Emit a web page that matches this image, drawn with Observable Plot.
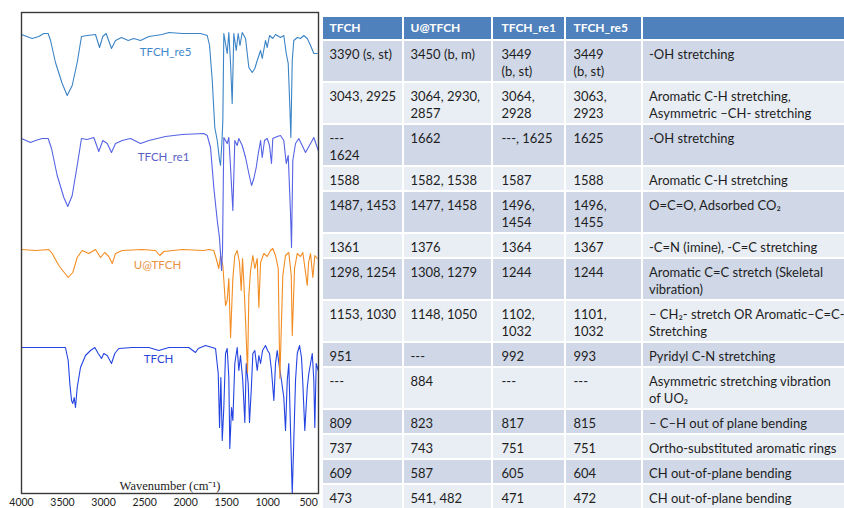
<!DOCTYPE html>
<html>
<head>
<meta charset="utf-8">
<script src="https://cdn.jsdelivr.net/npm/d3@7"></script>
<script src="https://cdn.jsdelivr.net/npm/@observablehq/plot@0.6"></script>
<style>
  html, body { margin: 0; padding: 0; background: #fff; }
  #fig { display: flex; width: 844px; height: 508px; overflow: hidden; }
  #fig svg { flex: none; }
</style>
</head>
<body>
<div id="fig"></div>
<script>
// FT-IR spectra: [wavenumber (cm⁻¹), transmittance (a.u., baseline ≈ 100)]
const tfch = [
  [4000,101],[3829,101],[3667,101],[3464,101],[3431,88],[3411,65],[3390,48],[3375,45],[3358,51],[3342,41],
  [3321,61],[3281,81],[3220,93],[3159,98],[3106,101],[3065,95],[3025,90],[2997,95],[2955,93],[2903,85],
  [2863,95],[2814,100],[2651,101],[2448,101],[2326,98],[2204,101],[1961,101],[1879,96],[1846,100],[1757,103],
  [1635,100],[1602,75],[1586,21],[1570,71],[1553,8],[1534,41],[1513,95],[1493,100],[1473,71],[1461,0],
  [1440,41],[1424,28],[1400,85],[1371,101],[1351,78],[1331,93],[1303,68],[1278,26],[1261,85],[1237,65],
  [1221,26],[1200,58],[1180,95],[1156,98],[1127,78],[1107,93],[1086,85],[1062,98],[1026,103],[1001,98],
  [977,95],[953,78],[924,48],[904,85],[883,98],[863,85],[831,68],[803,51],[782,18],[761,68],
  [742,85],[721,18],[700,-45],[681,8],[660,68],[639,95],[611,103],[587,91],[571,65],[547,18],
  [517,61],[498,75],[477,85],[456,95],[437,68],[425,21],[408,85],[383,78]
];
const uTfch = [
  [4000,101],[3829,100],[3667,101],[3626,97],[3545,85],[3431,73],[3375,78],[3321,93],[3260,100],[3180,97],
  [3098,101],[3037,93],[2985,98],[2936,94],[2894,87],[2854,97],[2772,100],[2529,101],[2367,100],[2314,95],
  [2265,99],[2041,101],[1778,100],[1717,101],[1656,100],[1627,92],[1595,82],[1574,95],[1546,85],[1513,45],
  [1493,50],[1473,72],[1452,13],[1424,72],[1400,95],[1371,100],[1343,88],[1322,60],[1306,92],[1290,68],
  [1269,30],[1245,-22],[1229,55],[1208,80],[1180,95],[1156,82],[1127,92],[1107,43],[1086,88],[1046,97],
  [1005,94],[965,100],[937,102],[904,95],[871,82],[851,-28],[815,75],[782,95],[742,98],[712,75],
  [700,15],[672,82],[639,97],[599,94],[571,98],[538,78],[517,65],[501,88],[477,97],[449,73],
  [425,95],[396,92]
];
const tfchRe1 = [
  [4000,99],[3890,95],[3829,97],[3748,99],[3675,99],[3634,89],[3565,62],[3484,40],[3436,31],[3382,42],
  [3321,72],[3269,99],[3199,98],[3119,100],[3058,86],[3009,97],[2955,94],[2903,85],[2854,94],[2772,97],
  [2671,99],[2549,94],[2448,97],[2245,101],[2041,103],[1778,104],[1736,102],[1696,90],[1656,50],[1614,17],
  [1586,-1],[1562,-33],[1550,-13],[1534,100],[1493,94],[1473,100],[1452,70],[1424,27],[1400,97],[1371,92],
  [1351,99],[1310,92],[1269,80],[1229,64],[1196,52],[1168,59],[1139,70],[1114,84],[1086,97],[1066,80],
  [1038,97],[1005,99],[977,92],[953,74],[937,99],[883,101],[843,102],[803,97],[773,74],[749,82],
  [721,24],[709,-10],[693,77],[660,94],[620,99],[579,92],[538,85],[477,94],[437,100],[383,87]
];
const tfchRe5 = [
  [4000,99],[3870,95],[3789,97],[3728,100],[3675,100],[3646,93],[3586,71],[3504,50],[3443,38],[3382,48],
  [3321,71],[3269,97],[3199,98],[3098,99],[3049,86],[3009,97],[2968,100],[2903,85],[2854,93],[2781,96],
  [2699,93],[2631,95],[2549,93],[2448,97],[2285,99],[2204,101],[2041,100],[1818,100],[1736,98],[1708,88],
  [1675,53],[1644,6],[1614,-7],[1586,-27],[1574,-32],[1556,-7],[1546,13],[1534,100],[1493,80],[1473,101],
  [1452,70],[1432,30],[1412,100],[1383,83],[1359,100],[1337,88],[1310,101],[1269,95],[1229,66],[1188,61],
  [1156,65],[1127,73],[1086,83],[1066,75],[1026,93],[1005,86],[977,98],[937,95],[904,99],[843,96],
  [803,98],[773,80],[749,70],[729,26],[717,-4],[700,73],[681,93],[639,96],[599,95],[559,98],
  [517,95],[477,88],[437,80],[396,80]
];

const seriesNames = ["TFCH", "U@TFCH", "TFCH_re1", "TFCH_re5"];
const seriesData = [tfch, uTfch, tfchRe1, tfchRe5];
const seriesColors = ["#2444e2", "#f38d22", "#5563e4", "#3b84c6"];
const labelColors = ["#2a45d6", "#e8913f", "#5b5fc4", "#3f88ca"];
// vertical stacking of the traces
const seriesOffsets = [0, 98, 211, 315];
// where each trace name sits: [wavenumber, transmittance]
const labelAnchors = [[2330, 89], [2342, 85], [2269, 80], [2245, 81]];
const xTicks = [4000, 3500, 3000, 2500, 2000, 1500, 1000, 500];

// Band assignment table
const tableHeaders = ["TFCH", "U@TFCH", "TFCH_re1", "TFCH_re5", ""];
const colTFCH = ["3390 (s, st)", "3043, 2925", "---\n1624", "1588", "1487, 1453", "1361", "1298, 1254",
  "1153, 1030", "951", "---", "809", "737", "609", "473"];
const colUTFCH = ["3450 (b, m)", "3064, 2930,\n2857", "1662", "1582, 1538", "1477, 1458", "1376", "1308, 1279",
  "1148, 1050", "---", "884", "823", "743", "587", "541, 482"];
const colRe1 = ["3449\n(b, st)", "3064,\n2928", "---, 1625", "1587", "1496,\n1454", "1364", "1244",
  "1102,\n1032", "992", "---", "817", "751", "605", "471"];
const colRe5 = ["3449\n(b, st)", "3063,\n2923", "1625", "1588", "1496,\n1455", "1367", "1244",
  "1101,\n1032", "993", "---", "815", "751", "604", "472"];
const colAssignment = ["-OH stretching", "Aromatic C-H stretching,\nAsymmetric –CH- stretching", "-OH stretching",
  "Aromatic C-H stretching", "O=C=O, Adsorbed CO₂", "-C=N (imine), -C=C stretching",
  "Aromatic C=C stretch (Skeletal\nvibration)", "– CH₂- stretch OR Aromatic–C=C-\nStretching",
  "Pyridyl C-N stretching", "Asymmetric stretching vibration\nof UO₂", "– C–H out of plane bending",
  "Ortho-substituted aromatic rings", "CH out-of-plane bending", "CH out-of-plane bending"];

// ---------- spectra ----------
const traces = seriesData.flatMap((s, i) =>
  s.map(([w, t]) => ({series: seriesNames[i], w, y: t + seriesOffsets[i]})));
const traceLabels = seriesNames.map((name, i) => ({
  name, w: labelAnchors[i][0], y: labelAnchors[i][1] + seriesOffsets[i], color: labelColors[i]
}));

const spectra = Plot.plot({
  width: 320,
  height: 508,
  marginTop: 12,
  marginBottom: 15,
  marginLeft: 21,
  marginRight: 2,
  style: {fontFamily: "Lato, sans-serif", background: "#fff"},
  x: {domain: [4000, 380]},
  y: {domain: [-45, 436], axis: null},
  color: {domain: seriesNames, range: seriesColors},
  marks: [
    Plot.line(traces, {x: "w", y: "y", z: "series", stroke: "series", strokeWidth: 1.1, clip: true}),
    Plot.text(traceLabels, {x: "w", y: "y", text: "name", fill: "color", fontSize: 11.5,
      fontFamily: "Lato, sans-serif"}),
    Plot.text(["Wavenumber (cm⁻¹)"], {frameAnchor: "bottom", dy: -8, lineAnchor: "middle",
      fontFamily: "Liberation Serif, serif", fontSize: 12.5, fill: "#222"}),
    Plot.axisX({ticks: xTicks, tickSize: 0, tickPadding: 5, tickFormat: d => `${d}`,
      label: null, fontSize: 10.5, fill: "#222"}),
    Plot.frame({stroke: "#3a3a3a", strokeWidth: 1.4})
  ]
});

// ---------- table ----------
const colWidths = [81, 89, 73, 77, 210];
const textPad = [7, 7, 9, 8, 6.5];
const tableLeft = 2, tableTop = 16, headerHeight = 24, lineHeight = 17.0, rowPad = 8.0;
const columns = [colTFCH, colUTFCH, colRe1, colRe5, colAssignment];

const colEdges = [tableLeft];
colWidths.forEach(w => colEdges.push(colEdges[colEdges.length - 1] + w));

const rowSpans = [{top: tableTop, bottom: tableTop + headerHeight}];
let cursor = tableTop + headerHeight;
for (let r = 0; r < colTFCH.length; r++) {
  const n = d3.max(columns, c => c[r].split("\n").length);
  const h = rowPad + lineHeight * n;
  rowSpans.push({top: cursor, bottom: cursor + h});
  cursor += h;
}

const cells = [];
rowSpans.forEach((span, r) => {
  columns.forEach((col, c) => {
    cells.push({
      header: r === 0,
      text: r === 0 ? tableHeaders[c] : col[r - 1],
      x1: colEdges[c], x2: colEdges[c + 1],
      tx: colEdges[c] + textPad[c],
      y1: span.top, y2: span.bottom,
      fill: r === 0 ? "#4f81bd" : (r % 2 === 1 ? "#d0d8e8" : "#e9edf4")
    });
  });
});

const table = Plot.plot({
  width: 524,
  height: 508,
  margin: 0,
  style: {background: "#fff"},
  x: {domain: [0, 524], axis: null},
  y: {domain: [0, 508], reverse: true, axis: null},
  color: {type: "identity"},
  marks: [
    Plot.rect(cells, {x1: "x1", x2: "x2", y1: "y1", y2: "y2", fill: "fill", inset: 1}),
    Plot.text(cells.filter(d => d.header), {x: "tx", y: d => d.y1 + 7, text: "text",
      textAnchor: "start", lineAnchor: "top", fill: "#fff", fontWeight: "bold",
      fontSize: 12, fontFamily: "Lato, sans-serif"}),
    Plot.text(cells.filter(d => !d.header), {x: "tx", y: d => d.y1 + 6.5, text: "text",
      textAnchor: "start", lineAnchor: "top", lineHeight: lineHeight / 13, fill: "#1e1e1e",
      fontSize: 13, fontFamily: "Lato, sans-serif"})
  ]
});

const fig = document.getElementById("fig");
fig.append(spectra, table);
</script>
</body>
</html>
